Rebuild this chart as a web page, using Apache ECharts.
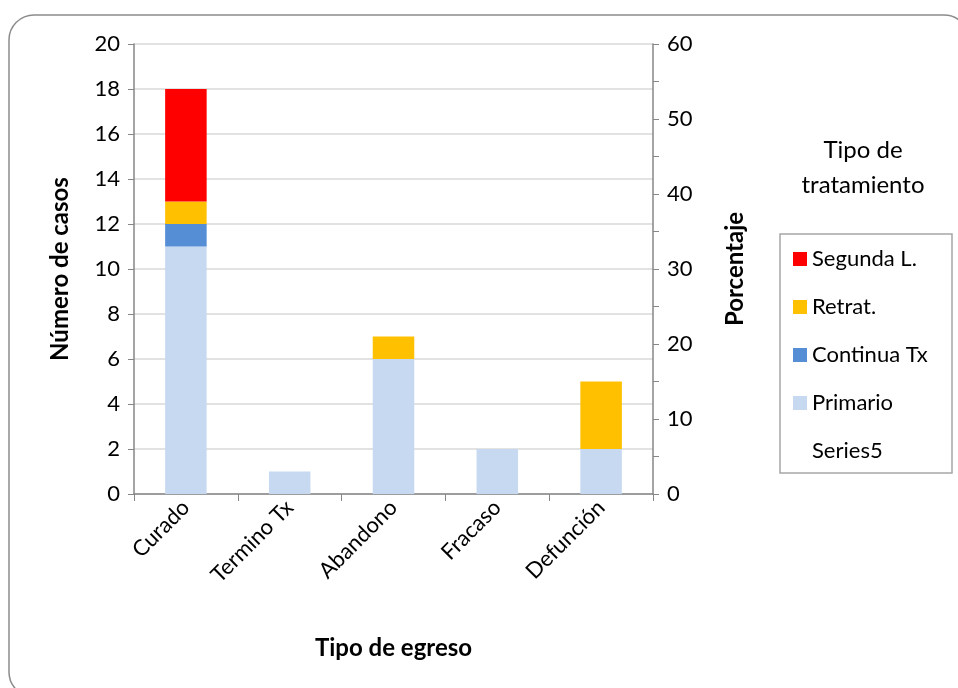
<!DOCTYPE html>
<html>
<head>
<meta charset="utf-8">
<script src="https://cdn.jsdelivr.net/npm/echarts@6/dist/echarts.min.js"></script>
<style>
html,body{margin:0;padding:0;background:#fff;}
#chart{width:958px;height:688px;}
</style>
</head>
<body>
<div id="chart"></div>
<script>
const categories = ['Curado', 'Termino Tx', 'Abandono', 'Fracaso', 'Defunción'];
const primario = [11, 1, 6, 2, 2];
const continuaTx = [1, 0, 0, 0, 0];
const retrat = [1, 0, 1, 0, 3];
const segundaL = [5, 0, 0, 0, 0];
const series5 = [];
const leftTicks = {min: 0, max: 20, interval: 2};
const rightTicks = {min: 0, max: 60, interval: 10};

const FONT = 'Lato, "Open Sans", sans-serif';
const axisGray = '#868686';
const REG = 22;
const BOLD = 24;

const chart = echarts.init(document.getElementById('chart'));
const zeroToNull = arr => arr.map(v => v === 0 ? null : v);

chart.setOption({
  animation: false,
  textStyle: {fontFamily: FONT},
  grid: {left: 134, right: 305, top: 44, bottom: 194},
  graphic: [
    {type: 'rect', shape: {x: 9, y: 15, width: 960, height: 682, r: 25},
     style: {fill: 'none', stroke: '#8c8c8c', lineWidth: 1.5}, silent: true},
    {type: 'rect', shape: {x: 780, y: 234, width: 172, height: 239},
     style: {fill: 'none', stroke: '#a6a6a6', lineWidth: 1.5}, silent: true},
    {type: 'text', x: 863, y: 150,
     style: {text: 'Tipo de', fontSize: 24, fontFamily: FONT, fill: '#000',
             textAlign: 'center', textVerticalAlign: 'middle'}},
    {type: 'text', x: 863, y: 185,
     style: {text: 'tratamiento', fontSize: 24, fontFamily: FONT, fill: '#000',
             textAlign: 'center', textVerticalAlign: 'middle'}}
  ],
  legend: {
    orient: 'vertical',
    left: 788, top: 243,
    icon: 'rect',
    itemWidth: 14, itemHeight: 14, itemGap: 26,
    textStyle: {fontSize: REG, fontFamily: FONT, color: '#000', lineHeight: 22},
    data: [
      {name: 'Segunda L.'},
      {name: 'Retrat.'},
      {name: 'Continua Tx'},
      {name: 'Primario'},
      {name: 'Series5', itemStyle: {color: 'rgba(0,0,0,0)'}, lineStyle: {color: 'rgba(0,0,0,0)'}}
    ]
  },
  xAxis: {
    type: 'category', data: categories,
    name: 'Tipo de egreso', nameLocation: 'middle', nameGap: 142,
    nameTextStyle: {fontSize: BOLD, fontWeight: 'bold', color: '#000', fontFamily: FONT},
    axisLine: {lineStyle: {color: axisGray, width: 1.5}},
    axisTick: {show: true, length: 7, lineStyle: {color: axisGray}},
    axisLabel: {rotate: 45, fontSize: REG, color: '#000', margin: 10, fontFamily: FONT}
  },
  yAxis: [
    {
      type: 'value', min: leftTicks.min, max: leftTicks.max, interval: leftTicks.interval,
      name: 'Número de casos', nameLocation: 'middle', nameGap: 62,
      nameTextStyle: {fontSize: BOLD, fontWeight: 'bold', color: '#000', fontFamily: FONT},
      axisLine: {show: true, lineStyle: {color: axisGray, width: 1.5}},
      axisTick: {show: true, length: 6, lineStyle: {color: axisGray}},
      axisLabel: {fontSize: REG, color: '#000', margin: 14, fontFamily: FONT},
      splitLine: {lineStyle: {color: '#d9d9d9', width: 1.5}}
    },
    {
      type: 'value', min: rightTicks.min, max: rightTicks.max, interval: rightTicks.interval,
      position: 'right',
      name: 'Porcentaje', nameLocation: 'middle', nameGap: 70,
      nameTextStyle: {fontSize: BOLD, fontWeight: 'bold', color: '#000', fontFamily: FONT},
      axisLine: {show: true, lineStyle: {color: axisGray, width: 1.5}},
      axisTick: {show: true, length: 6, lineStyle: {color: axisGray}},
      minorTick: {show: true, splitNumber: 2, length: 6, lineStyle: {color: axisGray}},
      axisLabel: {fontSize: REG, color: '#000', margin: 14, fontFamily: FONT},
      splitLine: {show: false}
    }
  ],
  series: [
    {name: 'Primario', type: 'bar', stack: 'a', data: zeroToNull(primario),
     barCategoryGap: '60%', itemStyle: {color: '#c6d9f1'}},
    {name: 'Continua Tx', type: 'bar', stack: 'a', data: zeroToNull(continuaTx),
     itemStyle: {color: '#558ed5'}},
    {name: 'Retrat.', type: 'bar', stack: 'a', data: zeroToNull(retrat),
     itemStyle: {color: '#ffc000'}},
    {name: 'Segunda L.', type: 'bar', stack: 'a', data: zeroToNull(segundaL),
     itemStyle: {color: '#ff0000'}},
    {name: 'Series5', type: 'line', yAxisIndex: 1, data: series5, showSymbol: false,
     itemStyle: {color: 'rgba(0,0,0,0)'}, lineStyle: {color: 'rgba(0,0,0,0)'}}
  ]
});
</script>
</body>
</html>
